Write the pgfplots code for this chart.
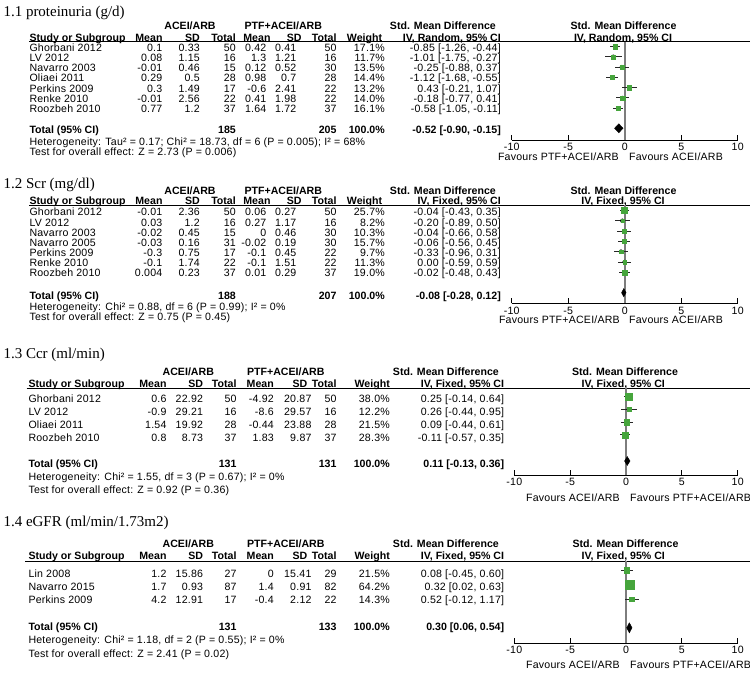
\documentclass[border=0pt]{standalone}
\usepackage{pgfplots}
\pgfplotsset{compat=1.18}
\usepackage{pgfplotstable}
\usepackage{fontspec}
\setmainfont{Liberation Sans}[LetterSpace=2, BoldFeatures={LetterSpace=0}]
\newfontfamily\titlefont{Liberation Serif}

\definecolor{fgreen}{RGB}{70,165,60}
\definecolor{zline}{RGB}{125,125,125}
\definecolor{ciline}{RGB}{40,40,40}

% study rows: row index, SMD, lower, upper, weight (%)
\pgfplotstableread{
row smd lo hi w
1 -0.85 -1.26 -0.44 17.1
2 -1.01 -1.75 -0.27 11.7
3 -0.25 -0.88 0.37 13.5
4 -1.12 -1.68 -0.55 14.4
5 0.43 -0.21 1.07 13.2
6 -0.18 -0.77 0.41 14.0
7 -0.58 -1.05 -0.11 16.1
}\protein
\pgfplotstableread{
row smd lo hi w
1 -0.04 -0.43 0.35 25.7
2 -0.20 -0.89 0.50 8.2
3 -0.04 -0.66 0.58 10.3
4 -0.06 -0.56 0.45 15.7
5 -0.33 -0.96 0.31 9.7
6 0.00 -0.59 0.59 11.3
7 -0.02 -0.48 0.43 19.0
}\scr
\pgfplotstableread{
row smd lo hi w
1 0.25 -0.14 0.64 38.0
2 0.26 -0.44 0.95 12.2
3 0.09 -0.44 0.61 21.5
4 -0.11 -0.57 0.35 28.3
}\ccr
\pgfplotstableread{
row smd lo hi w
1 0.08 -0.45 0.60 21.5
2 0.32 0.02 0.63 64.2
3 0.52 -0.12 1.17 14.3
}\egfr

\pgfplotsset{
  forest/.style={
    scale only axis, xmin=-10, xmax=10, y dir=reverse,
    axis x line=bottom, axis y line=none,
    axis line style={-, black, line width=0.8pt},
    xtick={-10,-5,0,5,10}, xticklabels={-10,-5,0,5,10},
    tick align=inside, major tick length=5pt,
    tick style={black, line width=0.8pt},
    xticklabel style={font=\fontsize{10.6}{12}\selectfont},
    ytick=\empty, clip=false,
    extra x ticks={0}, extra x tick labels={},
    extra x tick style={grid=major, major grid style={zline, line width=1.6pt}, major tick length=0pt},
  },
}

\newcommand\studies[1]{%
  \addplot[only marks, mark=none, error bars/.cd, x dir=both, x explicit,
    error mark=none, error bar style={draw=ciline, line width=1pt}]
    table[x=smd, y=row, x error plus expr=\thisrow{hi}-\thisrow{smd},
          x error minus expr=\thisrow{smd}-\thisrow{lo}] {#1};
  \addplot[scatter, only marks, mark=square*,
    scatter/use mapped color={draw=fgreen, fill=fgreen},
    visualization depends on={0.575*sqrt(\thisrow{w}) \as \msz},
    scatter/@pre marker code/.append style={/tikz/mark size=\msz pt}]
    table[x=smd, y=row] {#1};
}

\newcommand\TL[3]{\node[anchor=base west, inner sep=0pt] at (#1,#2) {#3};}
\newcommand\TR[3]{\node[anchor=base east, inner sep=0pt] at (#1,#2) {#3};}
\newcommand\TC[3]{\node[anchor=base, inner sep=0pt] at (#1,#2) {#3};}
\newcommand\row[9]{\TL{\cS}{\Y}{#1}\TR{\cMa}{\Y}{#2}\TR{\cSa}{\Y}{#3}\TR{\cNa}{\Y}{#4}%
  \TR{\cMb}{\Y}{#5}\TR{\cSb}{\Y}{#6}\TR{\cNb}{\Y}{#7}\TR{\cW}{\Y}{#8}\TR{\cCI}{\Y}{#9}}
\newcommand\ttl[2]{\node[anchor=base west, inner sep=0pt, font=\titlefont\fontsize{15}{18}\selectfont] at (3.3,#1) {#2};}

\begin{document}
\begin{tikzpicture}
\useasboundingbox (0pt,0pt) rectangle (750pt,-674pt);

\begin{scope}[x=1pt, y=-1pt, font=\fontsize{10.6}{12}\selectfont]
% ---------------- panel 1
\def\cS{29.3}\def\cMa{162.5}\def\cSa{200}\def\cNa{236}\def\cMb{266.5}\def\cSb{296.5}\def\cNb{336.7}\def\cW{385}\def\cCI{501}
\ttl{16.7}{1.1 proteinuria (g/d)}
\TC{190}{29.8}{\bfseries ACEI/ARB}\TC{283.3}{29.8}{\bfseries PTF+ACEI/ARB}
\TR{496}{29.8}{\bfseries Std. Mean Difference}\TC{623.5}{29.8}{\bfseries Std. Mean Difference}
\def\Y{41.1}
\TL{29.3}{\Y}{\bfseries Study or Subgroup}\TR{162.7}{\Y}{\bfseries Mean}\TR{200}{\Y}{\bfseries SD}\TR{236}{\Y}{\bfseries Total}
\TR{270.7}{\Y}{\bfseries Mean}\TR{301.7}{\Y}{\bfseries SD}\TR{336.7}{\Y}{\bfseries Total}\TR{382.3}{\Y}{\bfseries Weight}
\TR{501}{\Y}{\bfseries IV, Random, 95\% CI}\TC{623}{\Y}{\bfseries IV, Random, 95\% CI}
\draw[line width=0.8pt] (29.3,41.5) -- (750,41.5);
\def\Y{51.1}\row{Ghorbani 2012}{0.1}{0.33}{50}{0.42}{0.41}{50}{17.1\%}{-0.85 [-1.26, -0.44]}
\def\Y{61.35}\row{LV 2012}{0.08}{1.15}{16}{1.3}{1.21}{16}{11.7\%}{-1.01 [-1.75, -0.27]}
\def\Y{71.6}\row{Navarro 2003}{-0.01}{0.46}{15}{0.12}{0.52}{30}{13.5\%}{-0.25 [-0.88, 0.37]}
\def\Y{81.85}\row{Oliaei 2011}{0.29}{0.5}{28}{0.98}{0.7}{28}{14.4\%}{-1.12 [-1.68, -0.55]}
\def\Y{92.1}\row{Perkins 2009}{0.3}{1.49}{17}{-0.6}{2.41}{22}{13.2\%}{0.43 [-0.21, 1.07]}
\def\Y{102.35}\row{Renke 2010}{-0.01}{2.56}{22}{0.41}{1.98}{22}{14.0\%}{-0.18 [-0.77, 0.41]}
\def\Y{112.6}\row{Roozbeh 2010}{0.77}{1.2}{37}{1.64}{1.72}{37}{16.1\%}{-0.58 [-1.05, -0.11]}
\def\Y{133.8}
\TL{\cS}{\Y}{\bfseries Total (95\% CI)}\TR{\cNa}{\Y}{\bfseries 185}\TR{\cNb}{\Y}{\bfseries 205}\TR{\cW}{\Y}{\bfseries 100.0\%}\TR{\cCI}{\Y}{\bfseries -0.52 [-0.90, -0.15]}
\TL{\cS}{145.5}{Heterogeneity: Tau² = 0.17; Chi² = 18.73, df = 6 (P = 0.005); I² = 68\%}
\TL{\cS}{155.5}{Test for overall effect: Z = 2.73 (P = 0.006)}
\TR{619}{160.5}{Favours PTF+ACEI/ARB}\TL{629}{160.5}{Favours ACEI/ARB}

% ---------------- panel 2
\ttl{188.3}{1.2 Scr (mg/dl)}
\TC{190}{194.5}{\bfseries ACEI/ARB}\TC{283.3}{194.5}{\bfseries PTF+ACEI/ARB}
\TR{496}{194.5}{\bfseries Std. Mean Difference}\TC{623.5}{194.5}{\bfseries Std. Mean Difference}
\def\Y{204.8}
\TL{29.3}{\Y}{\bfseries Study or Subgroup}\TR{162.7}{\Y}{\bfseries Mean}\TR{200}{\Y}{\bfseries SD}\TR{236}{\Y}{\bfseries Total}
\TR{270.7}{\Y}{\bfseries Mean}\TR{301.7}{\Y}{\bfseries SD}\TR{336.7}{\Y}{\bfseries Total}\TR{382.3}{\Y}{\bfseries Weight}
\TR{501}{\Y}{\bfseries IV, Fixed, 95\% CI}\TC{623}{\Y}{\bfseries IV, Fixed, 95\% CI}
\draw[line width=0.8pt] (29.3,205) -- (750,205);
\def\Y{215.8}\row{Ghorbani 2012}{-0.01}{2.36}{50}{0.06}{0.27}{50}{25.7\%}{-0.04 [-0.43, 0.35]}
\def\Y{226.0}\row{LV 2012}{0.03}{1.2}{16}{0.27}{1.17}{16}{8.2\%}{-0.20 [-0.89, 0.50]}
\def\Y{236.1}\row{Navarro 2003}{-0.02}{0.45}{15}{0}{0.46}{30}{10.3\%}{-0.04 [-0.66, 0.58]}
\def\Y{246.3}\row{Navarro 2005}{-0.03}{0.16}{31}{-0.02}{0.19}{30}{15.7\%}{-0.06 [-0.56, 0.45]}
\def\Y{256.5}\row{Perkins 2009}{-0.3}{0.75}{17}{-0.1}{0.45}{22}{9.7\%}{-0.33 [-0.96, 0.31]}
\def\Y{266.7}\row{Renke 2010}{-0.1}{1.74}{22}{-0.1}{1.51}{22}{11.3\%}{0.00 [-0.59, 0.59]}
\def\Y{276.8}\row{Roozbeh 2010}{0.004}{0.23}{37}{0.01}{0.29}{37}{19.0\%}{-0.02 [-0.48, 0.43]}
\def\Y{299.2}
\TL{\cS}{\Y}{\bfseries Total (95\% CI)}\TR{\cNa}{\Y}{\bfseries 188}\TR{\cNb}{\Y}{\bfseries 207}\TR{\cW}{\Y}{\bfseries 100.0\%}\TR{\cCI}{\Y}{\bfseries -0.08 [-0.28, 0.12]}
\TL{\cS}{310.5}{Heterogeneity: Chi² = 0.88, df = 6 (P = 0.99); I² = 0\%}
\TL{\cS}{320.5}{Test for overall effect: Z = 0.75 (P = 0.45)}
\TR{620}{323.8}{Favours PTF+ACEI/ARB}\TL{629}{323.8}{Favours ACEI/ARB}

% ---------------- panel 3
\def\cS{28.3}\def\cMa{166.7}\def\cSa{203.3}\def\cNa{236.7}\def\cMb{274}\def\cSb{311.7}\def\cNb{336.7}\def\cW{390}\def\cCI{504.3}
\ttl{358.3}{1.3 Ccr (ml/min)}
\TC{188.3}{375.5}{\bfseries ACEI/ARB}\TC{285.8}{375.5}{\bfseries PTF+ACEI/ARB}
\TR{499}{375.5}{\bfseries Std. Mean Difference}\TC{625}{375.5}{\bfseries Std. Mean Difference}
\def\Y{387.8}
\TL{\cS}{\Y}{\bfseries Study or Subgroup}\TR{\cMa}{\Y}{\bfseries Mean}\TR{\cSa}{\Y}{\bfseries SD}\TR{\cNa}{\Y}{\bfseries Total}
\TR{\cMb}{\Y}{\bfseries Mean}\TR{307.5}{\Y}{\bfseries SD}\TR{\cNb}{\Y}{\bfseries Total}\TR{\cW}{\Y}{\bfseries Weight}
\TR{\cCI}{\Y}{\bfseries IV, Fixed, 95\% CI}\TC{623.3}{\Y}{\bfseries IV, Fixed, 95\% CI}
\draw[line width=0.8pt] (26.7,388.3) -- (750,388.3);
\def\Y{402.3}\row{Ghorbani 2012}{0.6}{22.92}{50}{-4.92}{20.87}{50}{38.0\%}{0.25 [-0.14, 0.64]}
\def\Y{415.3}\row{LV 2012}{-0.9}{29.21}{16}{-8.6}{29.57}{16}{12.2\%}{0.26 [-0.44, 0.95]}
\def\Y{428.3}\row{Oliaei 2011}{1.54}{19.92}{28}{-0.44}{23.88}{28}{21.5\%}{0.09 [-0.44, 0.61]}
\def\Y{441.3}\row{Roozbeh 2010}{0.8}{8.73}{37}{1.83}{9.87}{37}{28.3\%}{-0.11 [-0.57, 0.35]}
\def\Y{467.1}
\TL{\cS}{\Y}{\bfseries Total (95\% CI)}\TR{\cNa}{\Y}{\bfseries 131}\TR{\cNb}{\Y}{\bfseries 131}\TR{\cW}{\Y}{\bfseries 100.0\%}\TR{\cCI}{\Y}{\bfseries 0.11 [-0.13, 0.36]}
\TL{\cS}{480.5}{Heterogeneity: Chi² = 1.55, df = 3 (P = 0.67); I² = 0\%}
\TL{\cS}{493.8}{Test for overall effect: Z = 0.92 (P = 0.36)}
\TR{620}{501.1}{Favours ACEI/ARB}\TL{630}{501.1}{Favours PTF+ACEI/ARB}

% ---------------- panel 4
\ttl{526.7}{1.4 eGFR (ml/min/1.73m2)}
\TC{188.3}{547.1}{\bfseries ACEI/ARB}\TC{285.8}{547.1}{\bfseries PTF+ACEI/ARB}
\TR{499}{547.1}{\bfseries Std. Mean Difference}\TC{625.5}{547.1}{\bfseries Std. Mean Difference}
\def\Y{559.8}
\TL{\cS}{\Y}{\bfseries Study or Subgroup}\TR{\cMa}{\Y}{\bfseries Mean}\TR{\cSa}{\Y}{\bfseries SD}\TR{\cNa}{\Y}{\bfseries Total}
\TR{\cMb}{\Y}{\bfseries Mean}\TR{307.5}{\Y}{\bfseries SD}\TR{\cNb}{\Y}{\bfseries Total}\TR{\cW}{\Y}{\bfseries Weight}
\TR{\cCI}{\Y}{\bfseries IV, Fixed, 95\% CI}\TC{623.3}{\Y}{\bfseries IV, Fixed, 95\% CI}
\draw[line width=0.8pt] (25,561) -- (750,561);
\def\Y{577.1}\row{Lin 2008}{1.2}{15.86}{27}{0}{15.41}{29}{21.5\%}{0.08 [-0.45, 0.60]}
\def\Y{590.5}\row{Navarro 2015}{1.7}{0.93}{87}{1.4}{0.91}{82}{64.2\%}{0.32 [0.02, 0.63]}
\def\Y{603.8}\row{Perkins 2009}{4.2}{12.91}{17}{-0.4}{2.12}{22}{14.3\%}{0.52 [-0.12, 1.17]}
\def\Y{630.5}
\TL{\cS}{\Y}{\bfseries Total (95\% CI)}\TR{\cNa}{\Y}{\bfseries 131}\TR{\cNb}{\Y}{\bfseries 133}\TR{\cW}{\Y}{\bfseries 100.0\%}\TR{\cCI}{\Y}{\bfseries 0.30 [0.06, 0.54]}
\TL{\cS}{643.8}{Heterogeneity: Chi² = 1.18, df = 2 (P = 0.55); I² = 0\%}
\TL{\cS}{657.1}{Test for overall effect: Z = 2.41 (P = 0.02)}
\TR{620}{668.8}{Favours ACEI/ARB}\TL{630}{668.8}{Favours PTF+ACEI/ARB}
\end{scope}

% ---------------- forest plots
\begin{axis}[forest, at={(511.7pt,-140pt)}, anchor=south west,
  width=226pt, height=98.5pt, ymin=0.515, ymax=10.078]
  \studies{\protein}
  \addplot[fill=black, draw=black] coordinates {(-0.90,8.94) (-0.52,8.50) (-0.15,8.94) (-0.52,9.38)} -- cycle;
\end{axis}

\begin{axis}[forest, at={(511.7pt,-303.3pt)}, anchor=south west,
  width=226pt, height=98.3pt, ymin=0.466, ymax=10.01]
  \studies{\scr}
  \addplot[fill=black, draw=black] coordinates {(-0.28,8.98) (-0.08,8.58) (0.12,8.98) (-0.08,9.38)} -- cycle;
\end{axis}

\begin{axis}[forest, at={(514.3pt,-475pt)}, anchor=south west,
  width=223.4pt, height=86.7pt, ymin=0.359, ymax=7.133]
  \studies{\ccr}
  \addplot[fill=black, draw=black] coordinates {(-0.13,6.04) (0.11,5.69) (0.36,6.04) (0.11,6.39)} -- cycle;
\end{axis}

\begin{axis}[forest, at={(514.3pt,-643pt)}, anchor=south west,
  width=223.4pt, height=82pt, ymin=0.37, ymax=5.986]
  \studies{\egfr}
  \addplot[fill=black, draw=black] coordinates {(0.06,4.945) (0.30,4.60) (0.54,4.945) (0.30,5.29)} -- cycle;
\end{axis}
\end{tikzpicture}
\end{document}
